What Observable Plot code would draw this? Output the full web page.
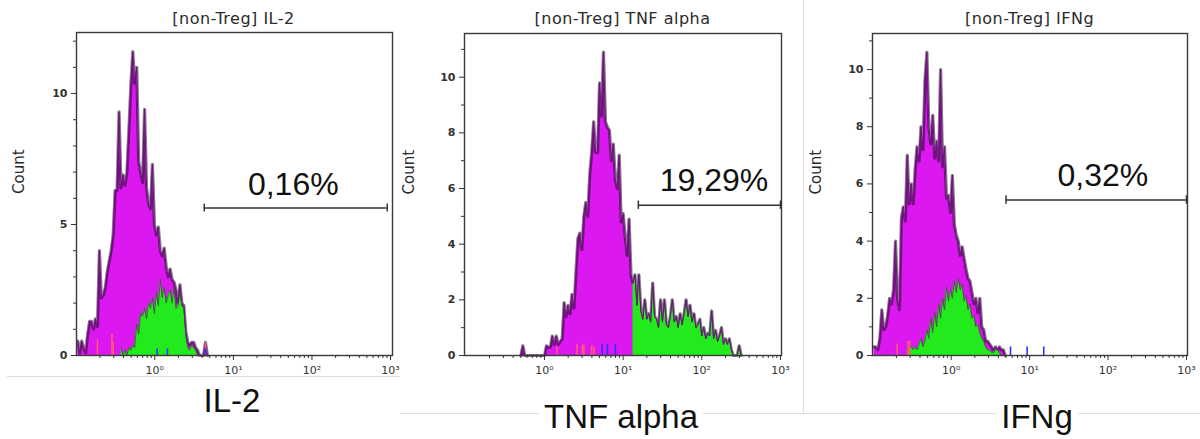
<!DOCTYPE html>
<html><head><meta charset="utf-8">
<script src="https://cdn.jsdelivr.net/npm/d3@7"></script>
<script src="https://cdn.jsdelivr.net/npm/@observablehq/plot@0.6"></script>
<style>
body{margin:0;background:#fff;width:1200px;height:439px;position:relative;overflow:hidden;font-family:"Liberation Sans",Arial,sans-serif}
.panel{position:absolute;top:0}
.ttl{position:absolute;top:11px;font-family:"DejaVu Sans";font-size:16px;line-height:16px;letter-spacing:0.5px;color:#2a2a2a;transform:translateX(-50%);white-space:nowrap}
.big{position:absolute;font-family:"Liberation Sans",Arial;font-size:33px;line-height:33px;color:#111;background:#fff;transform:translateX(-50%);padding:0 5px;white-space:nowrap}
.hl{position:absolute;height:1px;background:#dcdcdc}
.vl{position:absolute;width:1px;background:#e0e0e0}
</style></head><body>
<div class="hl" style="top:376px;left:7px;width:393px"></div>
<div class="hl" style="top:413px;left:400px;width:403px"></div>
<div class="vl" style="left:803px;top:0;height:413px"></div>
<div class="hl" style="top:413px;left:803px;width:397px"></div>
<div id="p0" class="panel" style="left:0"></div>
<div id="p1" class="panel" style="left:400px"></div>
<div id="p2" class="panel" style="left:800px"></div>
<script>
// ---- data (log10 channel of first bin, bin step in decades, counts per bin) ----
const binStep = 0.025;

const panelTitles = ["[non-Treg] IL-2", "[non-Treg] TNF alpha", "[non-Treg] IFNg"];
const bigLabels = ["IL-2", "TNF alpha", "IFNg"];

const il2Start = -0.98;
const il2Total = [0.55,0.1,0.55,0.3,0.1,0.8,1.3,1.3,1.0,1.4,1.1,4.0,2.2,2.3,2.6,3.2,3.6,4.0,4.6,6.3,6.3,9.3,6.4,6.9,6.5,7.0,8.6,10.3,11.6,10.4,11.0,7.4,7.0,6.6,9.4,6.4,5.8,5.6,7.3,5.0,4.6,4.9,4.0,3.8,4.1,3.4,3.0,3.3,2.9,2.8,2.5,2.0,2.7,2.0,1.9,0.9,0.5,0.4,0.5,0.5,0.3,0.2,0,0,0,0.5,0];
const il2GreenStart = -0.43;
const il2Green = [0.3,0,0.2,0,0.3,0.2,0.4,0.3,1.2,0.8,1.6,1.5,1.8,1.4,2.0,1.8,2.2,1.6,2.4,1.9,2.9,2.2,2.6,2.0,2.3,2.5,2.0,2.6,1.8,1.9,2.4,1.9,1.8,0.8,0.3,0.2,0.4,0.3,0.2,0];
const il2RedLog = [-0.73,-0.545,-0.53,0.645];
const il2RedCount = [0.6,0.8,0.5,0.5];
const il2BlueLog = [0.03,0.16,0.645];
const il2BlueCount = [0.25,0.25,0.25];

const tnfStart = -0.3;
const tnfTotal = [0,0.35,0,0,0,0,0,0,0,0,0,0,0,0.35,0.3,0.3,0.7,0.4,0.7,0.4,0.5,0.6,1.9,1.4,1.8,1.5,2.2,1.7,3.0,4.2,4.4,3.8,5.0,5.5,5.0,6.5,7.3,8.4,7.3,7.3,9.8,8.6,10.9,8.4,8.2,8.1,7.0,7.6,6.3,6.0,7.2,4.8,5.1,4.3,3.6,4.9,2.9,
  2.6,2.9,1.8,2.9,1.6,1.3,2.0,1.3,1.5,1.2,2.6,1.4,1.3,1.0,2.0,1.2,2.0,1.1,1.0,1.4,2.0,1.2,1.4,1.0,1.5,1.1,1.5,2.0,1.4,1.8,1.2,1.5,1.0,1.1,1.3,0.7,1.0,0.6,0.8,0.7,1.6,0.6,0.9,0.5,0.7,1.0,0.4,0.6,0.4,0.6,0.2,0,0,0,0.35,0];
const tnfGreenStart = 1.125;
const tnfGreen = [2.6,2.9,1.8,2.9,1.6,1.3,2.0,1.3,1.5,1.2,2.6,1.4,1.3,1.0,2.0,1.2,2.0,1.1,1.0,1.4,2.0,1.2,1.4,1.0,1.5,1.1,1.5,2.0,1.4,1.8,1.2,1.5,1.0,1.1,1.3,0.7,1.0,0.6,0.8,0.7,1.6,0.6,0.9,0.5,0.7,1.0,0.4,0.6,0.4,0.6,0.2,0,0,0,0.35,0];
const tnfRedLog = [0.16,0.415,0.48,0.5,0.6,0.63];
const tnfRedCount = [0.3,0.4,0.35,0.4,0.35,0.3];
const tnfBlueLog = [0.733,0.8,0.9];
const tnfBlueCount = [0.4,0.4,0.4];

const ifnStart = -0.985;
const ifnTotal = [0.3,0.3,0.2,0.6,1.6,0.9,1.0,1.4,2.0,1.8,2.3,4.0,2.0,1.6,4.8,5.2,4.7,7.0,5.3,6.0,5.3,6.5,7.3,6.8,8.0,7.2,9.6,10.6,8.0,7.4,8.4,6.9,7.5,6.8,10.0,6.6,7.3,5.5,5.6,5.0,6.3,4.6,4.2,4.0,3.5,3.8,3.4,3.0,2.7,2.6,2.2,1.8,2.0,1.5,2.0,1.0,0.9,0.5,0.5,0.4,0.3,0.2,0.3,0.2,0.3,0.2,0.2,0];
const ifnGreenStart = -0.56;
const ifnGreen = [0.2,0.3,0.3,0.2,0.3,0.2,0.4,0.6,0.3,0.5,0.9,0.6,1.3,0.8,1.5,1.0,1.8,1.3,2.0,1.6,2.4,1.9,2.3,2.0,2.6,2.2,2.7,2.3,2.5,1.9,2.1,1.6,1.8,1.3,1.4,1.0,1.1,0.8,0.6,0.5,0.3,0.2,0.2,0.1,0.1,0.2,0.2,0.1,0];
const ifnRedLog = [-0.69,-0.55,-0.53];
const ifnRedCount = [0.4,0.5,0.5];
const ifnBlueLog = [0.756,0.968,1.18];
const ifnBlueCount = [0.3,0.3,0.3];

// gates and percentages
const gateLo = [4.26, 15.6, 5.0];
const gateHi = [908, 1000, 1000];
const gateCount = [5.63, 5.4, 5.44];
const pctText = ["0,16%", "19,29%", "0,32%"];
const pctX = [57.8, 142.6, 85.9];
const pctCount = [6.13, 5.9, 5.91];

// tick values and labels
const decadeTicks = [1, 10, 100, 1000];
const decadeLabels = ["10\u2070", "10\u00B9", "10\u00B2", "10\u00B3"];
const minorX = [0.2,0.3,0.4,0.5,0.6,0.7,0.8,0.9,2,3,4,5,6,7,8,9,20,30,40,50,60,70,80,90,200,300,400,500,600,700,800,900];
const yMajorTicks = [[0,5,10],[0,2,4,6,8,10],[0,2,4,6,8,10]];
const yMinorTicks = [[1,2,3,4,6,7,8,9,11,12],[1,3,5,7,9,11],[1,3,5,7,9,11]];

// scale layout per panel
const xDomains = [[0.1008, 1059], [0.0962, 1030], [0.0992, 1030]];
const yMax = [12.33, 11.57, 11.26];

const layout = [
  {ml: 76, mr: 8, mt: 32, countDx: -57, titleX: 233.5, bigX: 232, bigTop: 384},
  {ml: 64, mr: 19, mt: 33, countDx: -55.5, titleX: 622.5, bigX: 621, bigTop: 400},
  {ml: 72, mr: 13, mt: 33, countDx: -56.5, titleX: 1029.5, bigX: 1037, bigTop: 400}
];

const series = [
  {start: il2Start, total: il2Total, gStart: il2GreenStart, green: il2Green, rl: il2RedLog, rc: il2RedCount, bl: il2BlueLog, bc: il2BlueCount},
  {start: tnfStart, total: tnfTotal, gStart: tnfGreenStart, green: tnfGreen, rl: tnfRedLog, rc: tnfRedCount, bl: tnfBlueLog, bc: tnfBlueCount},
  {start: ifnStart, total: ifnTotal, gStart: ifnGreenStart, green: ifnGreen, rl: ifnRedLog, rc: ifnRedCount, bl: ifnBlueLog, bc: ifnBlueCount}
];

const rows = (start, vals) => vals.map((c, i) => ({x: Math.pow(10, start + i * binStep), c}));
const events = (logs, cs) => logs.map((l, i) => ({x: Math.pow(10, l), c: cs[i]}));

series.forEach((s, k) => {
  const L = layout[k];
  const tot = rows(s.start, s.total);
  const grn = rows(s.gStart, s.green);
  const red = events(s.rl, s.rc);
  const blue = events(s.bl, s.bc);
  const gate = [{lo: gateLo[k], hi: gateHi[k], y: gateCount[k]}];
  const caps = [{x: gateLo[k], y: gateCount[k]}, {x: gateHi[k], y: gateCount[k]}];
  const pct = [{x: pctX[k], y: pctCount[k], t: pctText[k]}];
  const chart = Plot.plot({
    width: 400, height: 385,
    marginLeft: L.ml, marginRight: L.mr, marginTop: L.mt, marginBottom: 30,
    x: {type: "log", domain: xDomains[k]},
    y: {domain: [0, yMax[k]]},
    style: {fontFamily: "DejaVu Sans", fontSize: "10px", color: "#333", background: "transparent", overflow: "visible"},
    marks: [
      Plot.areaY(tot, {x: "x", y: "c", fill: "#da18ef"}),
      Plot.lineY(tot, {x: "x", y: "c", stroke: "#2e0636", strokeWidth: 3.2, strokeOpacity: 0.55}),
      Plot.areaY(grn, {x: "x", y: "c", fill: "#22ea1c"}),
      Plot.lineY(grn, {x: "x", y: "c", stroke: "#2f5a28", strokeWidth: 1, strokeOpacity: 0.75}),
      Plot.lineY(tot, {x: "x", y: "c", stroke: "#6a1478", strokeWidth: 1}),
      Plot.ruleX(red, {x: "x", y1: 0, y2: "c", stroke: "#ff5a70", strokeWidth: 1.6}),
      Plot.ruleX(blue, {x: "x", y1: 0, y2: "c", stroke: "#3030ff", strokeWidth: 1.6}),
      Plot.frame({stroke: "#3a3a3a", strokeWidth: 1.4}),
      Plot.axisY({ticks: yMajorTicks[k], tickSize: 5, tickPadding: 4, fontWeight: "bold", fontSize: 11, label: null}),
      Plot.axisY({ticks: yMinorTicks[k], tickSize: 3, tickFormat: () => "", label: null}),
      Plot.axisX({ticks: decadeTicks, tickSize: 5, tickPadding: 6, tickFormat: (d) => decadeLabels[decadeTicks.indexOf(d)], fontSize: 11, label: null}),
      Plot.axisX({ticks: minorX, tickSize: 3, tickFormat: () => "", label: null}),
      Plot.ruleY(gate, {x1: "lo", x2: "hi", y: "y", stroke: "#333", strokeWidth: 1.5}),
      Plot.ruleX(caps, {x: "x", y1: (d) => d.y - 0.15, y2: (d) => d.y + 0.15, stroke: "#333", strokeWidth: 1.5}),
      Plot.text(pct, {x: "x", y: "y", text: "t", fontSize: 32, fontFamily: "Liberation Sans", lineAnchor: "bottom", fill: "#111"}),
      Plot.text(["Count"], {frameAnchor: "left", dx: L.countDx, rotate: -90, text: (d) => d, fontSize: 15, fontFamily: "DejaVu Sans", fill: "#2a2a2a"})
    ]
  });
  document.getElementById("p" + k).appendChild(chart);

  const t = document.createElement("div");
  t.className = "ttl"; t.style.left = L.titleX + "px"; t.textContent = panelTitles[k];
  document.body.appendChild(t);
  const b = document.createElement("div");
  b.className = "big"; b.style.left = L.bigX + "px"; b.style.top = L.bigTop + "px"; b.textContent = bigLabels[k];
  document.body.appendChild(b);
});
</script>
</body></html>
